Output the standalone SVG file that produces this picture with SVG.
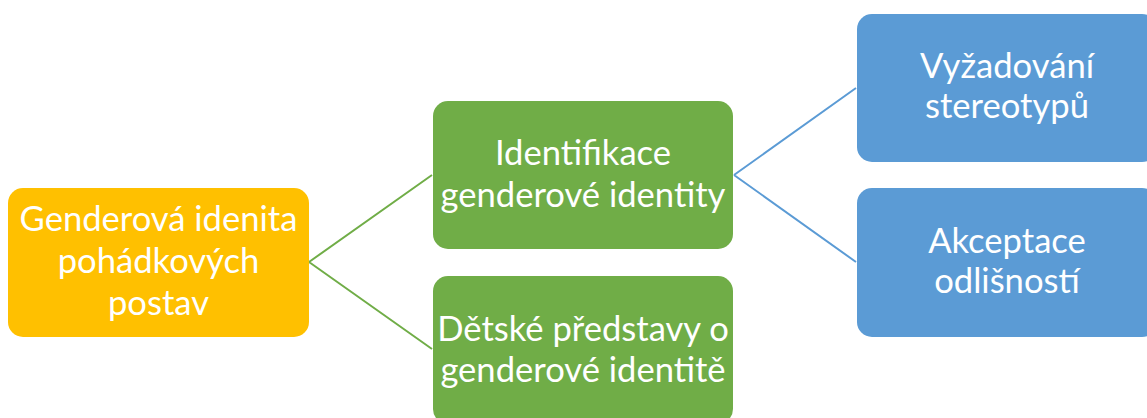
<svg xmlns="http://www.w3.org/2000/svg" width="1147" height="418" viewBox="0 0 1147 418">
<style>
.t{font-family:Lato,"Open Sans",sans-serif;font-size:34.6px;fill:#fff;text-anchor:middle}
.y{fill:#FFC000}.g{fill:#70AD47}.b{fill:#5B9BD5}
.cg{stroke:#70AD47;stroke-width:2;fill:none}.cb{stroke:#5B9BD5;stroke-width:2;fill:none}
</style>
<rect width="1147" height="418" fill="#fff"/>
<g id="connectors">
<path class="cg" d="M309,262 L432,175 M309,262 L432,349"/>
<path class="cb" d="M734,175 L856,88 M734,175 L856,262"/>
</g>
<g id="n1"><rect class="y" x="8" y="188" width="301" height="149" rx="15"/>
<text class="t" x="158.5" y="231">Genderová idenita</text><text class="t" x="158.5" y="273">pohádkových</text><text class="t" x="158.5" y="315">postav</text></g>
<g id="n2"><rect class="g" x="433" y="101" width="300" height="148" rx="15"/>
<text class="t" x="583" y="165">Identifikace</text><text class="t" x="583" y="207">genderové identity</text></g>
<g id="n3"><rect class="g" x="433" y="276" width="300" height="148" rx="15"/>
<text class="t" x="583" y="341">Dětské představy o</text><text class="t" x="583" y="382">genderové identitě</text></g>
<g id="n4"><rect class="b" x="857" y="14" width="300" height="148" rx="15"/>
<text class="t" x="1007" y="78">Vyžadování</text><text class="t" x="1007" y="118">stereotypů</text></g>
<g id="n5"><rect class="b" x="857" y="188" width="300" height="149" rx="15"/>
<text class="t" x="1007" y="253">Akceptace</text><text class="t" x="1007" y="293">odlišností</text></g>
</svg>
